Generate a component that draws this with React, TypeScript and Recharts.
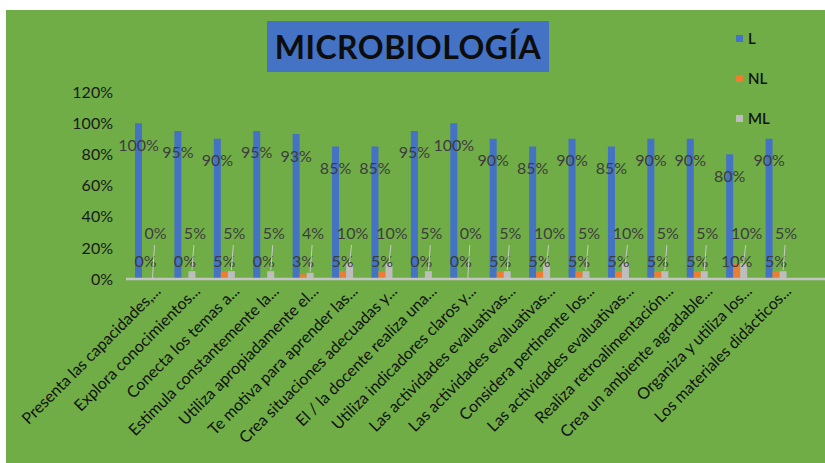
import { BarChart, Bar, XAxis, YAxis, LabelList, Legend } from "recharts";

const categories = [
  "Presenta las capacidades,...",
  "Explora conocimientos...",
  "Conecta los temas a...",
  "Estimula constantemente la...",
  "Utiliza apropiadamente el...",
  "Te motiva para aprender las...",
  "Crea situaciones adecuadas y...",
  "El / la docente realiza una...",
  "Utiliza indicadores claros y...",
  "Las actividades evaluativas...",
  "Las actividades evaluativas...",
  "Considera pertinente los...",
  "Las actividades evaluativas...",
  "Realiza retroalimentación...",
  "Crea un ambiente agradable...",
  "Organiza y utiliza los...",
  "Los materiales didácticos...",
];
const seriesNames = ["L", "NL", "ML"];
const valuesL = [100, 95, 90, 95, 93, 85, 85, 95, 100, 90, 85, 90, 85, 90, 90, 80, 90];
const valuesNL = [0, 0, 5, 0, 3, 5, 5, 0, 0, 5, 5, 5, 5, 5, 5, 10, 5];
const valuesML = [0, 5, 5, 5, 4, 10, 10, 5, 0, 5, 10, 5, 10, 5, 5, 10, 5];
const yTicks = [0, 20, 40, 60, 80, 100, 120];

const data = categories.map((name, i) => ({
  key: `${i}`,
  name,
  L: valuesL[i],
  NL: valuesNL[i],
  ML: valuesML[i],
}));

const FONT = "Lato, 'Liberation Sans', sans-serif";
const LABEL_COLOR = "#3d3d3d";

const CategoryTick = ({ x, y, payload, index }: any) => {
  const ax = x + 16;
  const ay = y + 5;
  return (
    <text
      x={ax}
      y={ay}
      textAnchor="end"
      fontSize={16}
      fontFamily={FONT}
      fill="#111"
      transform={`rotate(-45, ${ax}, ${ay})`}
    >
      {categories[index] ?? payload.value}
    </text>
  );
};

const TopLabel = (p: any) => (
  <text
    x={p.x + p.width / 2}
    y={p.y + 21}
    textAnchor="middle"
    dominantBaseline="central"
    fontSize={16}
    fontFamily={FONT}
    fill={LABEL_COLOR}
  >
    {p.value}%
  </text>
);

const BaseLabel = (p: any) => (
  <text
    x={p.x + p.width / 2}
    y={p.y + p.height - 19}
    textAnchor="middle"
    dominantBaseline="central"
    fontSize={16}
    fontFamily={FONT}
    fill={LABEL_COLOR}
  >
    {p.value}%
  </text>
);

const LeaderLabel = (p: any) => {
  const cx = p.x + p.width / 2;
  const base = p.y + p.height;
  const lx = cx + 3;
  const ly = base - 47;
  return (
    <g>
      <line x1={lx - 1} y1={ly + 13} x2={cx} y2={p.y - 1} stroke="#c9c9c9" strokeWidth={1} />
      <text
        x={lx}
        y={ly}
        textAnchor="middle"
        dominantBaseline="central"
        fontSize={16}
        fontFamily={FONT}
        fill={LABEL_COLOR}
      >
        {p.value}%
      </text>
    </g>
  );
};

const LegendBox = ({ payload }: any) => {
  const items = [...(payload || [])].sort(
    (a: any, b: any) => seriesNames.indexOf(a.value) - seriesNames.indexOf(b.value)
  );
  return (
    <div style={{ fontFamily: FONT }}>
      {items.map((e: any) => (
        <div key={e.value} style={{ height: 40, display: "flex", alignItems: "center" }}>
          <span style={{ width: 7, height: 7, background: e.color, marginRight: 5 }} />
          <span style={{ fontSize: 15, color: "#111", fontWeight: 600 }}>{e.value}</span>
        </div>
      ))}
    </div>
  );
};

export default function App() {
  return (
    <div style={{ position: "absolute", left: 0, top: 0, width: 825, height: 463, background: "#fff", overflow: "hidden" }}>
      <div style={{ position: "absolute", left: 6, top: 10, width: 819, height: 453, background: "#70ad47" }} />
      <div style={{ position: "absolute", left: 0, top: 0 }}>
        <BarChart
          width={825}
          height={463}
          data={data}
          margin={{ top: 92, right: 0, bottom: 0, left: 0 }}
          barSize={7}
          barGap={0}
        >
          <XAxis
            dataKey="key"
            axisLine={{ stroke: "#c4c4c4", strokeWidth: 2.5 }}
            tickLine={false}
            interval={0}
            tick={<CategoryTick />}
            height={184}
            padding={{ left: 0, right: 29 }}
          />
          <YAxis
            type="number"
            domain={[0, 120]}
            ticks={yTicks}
            tickFormatter={(v: number) => `${v}%`}
            axisLine={false}
            tickLine={false}
            tickMargin={7}
            width={126}
            tick={{ fontSize: 16, fontFamily: FONT, fill: "#1a1a1a" }}
          />
          <Legend
            layout="vertical"
            verticalAlign="middle"
            align="center"
            wrapperStyle={{ top: 18, left: 736, width: 80 }}
            content={<LegendBox />}
          />
          <Bar dataKey="L" name="L" fill="#4472c4" isAnimationActive={false}>
            <LabelList dataKey="L" content={<TopLabel />} />
          </Bar>
          <Bar dataKey="NL" name="NL" fill="#ed7d31" minPointSize={0.01} isAnimationActive={false}>
            <LabelList dataKey="NL" content={<BaseLabel />} />
          </Bar>
          <Bar dataKey="ML" name="ML" fill="#bdbdbd" minPointSize={0.01} isAnimationActive={false}>
            <LabelList dataKey="ML" content={<LeaderLabel />} />
          </Bar>
        </BarChart>
      </div>
      <div
        style={{
          position: "absolute",
          left: 267,
          top: 21,
          width: 282,
          height: 51,
          background: "#4472c4",
          display: "flex",
          alignItems: "center",
          justifyContent: "center",
          fontFamily: FONT,
          fontWeight: 700,
          fontSize: 32,
          letterSpacing: 0.5,
          color: "#0d0d0d",
        }}
      >
        MICROBIOLOGÍA
      </div>
    </div>
  );
}
